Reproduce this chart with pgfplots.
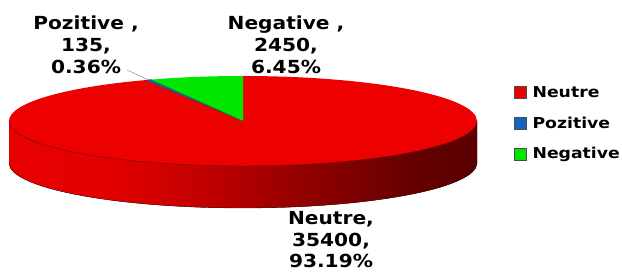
\documentclass[border=0pt]{standalone}
\usepackage{pgfplots}
\usepackage{pgfplotstable}
\pgfplotsset{compat=1.18}
\usepackage{fontspec}
\setmainfont{DejaVu Sans}
\newfontfamily\lblfont{DejaVu Sans Bold}[FakeStretch=1.12]
\newfontfamily\legfont{DejaVu Sans Bold}[FakeStretch=1.15]

\definecolor{topred}{RGB}{236,0,0}
\definecolor{edgered}{RGB}{110,0,0}
\definecolor{pgreen}{RGB}{0,230,0}
\definecolor{pblue}{RGB}{20,100,190}
\pgfdeclarehorizontalshading{sidered}{100bp}{%
  rgb(0bp)=(0.91,0,0); rgb(25bp)=(0.91,0,0); rgb(35.8bp)=(0.89,0,0);
  rgb(46.5bp)=(0.75,0,0); rgb(57.2bp)=(0.56,0,0); rgb(67.8bp)=(0.40,0,0);
  rgb(75bp)=(0.35,0,0); rgb(100bp)=(0.35,0,0)}

\pgfplotstableread{
label value
Neutre 35400
Pozitive 135
Negative 2450
}\piedata

\pgfplotstablegetelem{0}{value}\of\piedata \edef\vA{\pgfplotsretval}
\pgfplotstablegetelem{1}{value}\of\piedata \edef\vB{\pgfplotsretval}
\pgfplotstablegetelem{2}{value}\of\piedata \edef\vC{\pgfplotsretval}
\edef\tot{\fpeval{\vA+\vB+\vC}}
\def\sA{90}
\edef\eA{\fpeval{round(90-360*\vA/\tot,4)}}
\edef\eB{\fpeval{round(\eA-360*\vB/\tot,4)}}
\edef\eC{\fpeval{round(\eB-360*\vC/\tot,4)}}
\edef\mB{\fpeval{round((\eA+\eB)/2,4)}}

% geometry (axis units = pt)
\def\cx{243}
\def\cy{152}
\def\rx{234}
\def\ry{45}
\def\dep{42}

\begin{document}
\begin{tikzpicture}
\useasboundingbox (0,0) rectangle (622pt,273pt);
\begin{axis}[
  at={(0,0)}, anchor=south west,
  width=622pt, height=273pt, scale only axis,
  xmin=0, xmax=622, ymin=0, ymax=273,
  hide axis, clip=false,
  legend style={at={(514/622,1-84/273)}, anchor=north west, draw=none,
    fill=none, font=\legfont\fontsize{15}{18}\selectfont,
    row sep=14pt, inner sep=0pt,
    /tikz/every odd column/.append style={column sep=4pt}},
  legend cell align=left,
  legend image code/.code={\draw[#1] (0pt,-6pt) rectangle (12pt,6pt);},
]
% legend
\addlegendimage{fill=topred, draw=black!70, line width=0.4pt}
\addlegendentry{Neutre}
\addlegendimage{fill=pblue, draw=black!70, line width=0.4pt}
\addlegendentry{Pozitive}
\addlegendimage{fill=pgreen, draw=black!70, line width=0.4pt}
\addlegendentry{Negative}

% side of the cylinder (front half, all Neutre)
\fill[shading=sidered]
  (axis cs:{\cx-\rx},\cy) arc[start angle=180, end angle=360, x radius=\rx pt, y radius=\ry pt]
  -- ++(0pt,-\dep pt)
  arc[start angle=360, end angle=180, x radius=\rx pt, y radius=\ry pt] -- cycle;
\draw[edgered!60!black, line width=0.3pt]
  (axis cs:{\cx-\rx},{\cy-\dep}) arc[start angle=180, end angle=360, x radius=\rx pt, y radius=\ry pt];

% top slices
\fill[topred] (axis cs:\cx,\cy) -- (axis cs:{\cx+\rx*cos(\sA)},{\cy+\ry*sin(\sA)})
  arc[start angle=\sA, end angle=\eA, x radius=\rx pt, y radius=\ry pt] -- cycle;
\draw[edgered, line width=0.4pt] (axis cs:{\cx-\rx},\cy)
  arc[start angle=180, end angle=360, x radius=\rx pt, y radius=\ry pt];
\fill[pblue, draw=pblue!60!black, line width=0.3pt] (axis cs:\cx,\cy) -- (axis cs:{\cx+\rx*cos(\eA)},{\cy+\ry*sin(\eA)})
  arc[start angle=\eA, end angle=\eB, x radius=\rx pt, y radius=\ry pt] -- cycle;
\fill[pgreen] (axis cs:\cx,\cy) -- (axis cs:{\cx+\rx*cos(\eB)},{\cy+\ry*sin(\eB)})
  arc[start angle=\eB, end angle=\eC, x radius=\rx pt, y radius=\ry pt] -- cycle;
\draw[pgreen!55!black, line width=0.3pt] (axis cs:{\cx+\rx*cos(\eB)},{\cy+\ry*sin(\eB)}) -- (axis cs:\cx,\cy);

% leader line for Pozitive
\draw[black!45, line width=0.5pt] (axis cs:127,203) -- (axis cs:{\cx+\rx*cos(\mB)},{\cy+\ry*sin(\mB)});

% data labels
\node[align=center, font=\lblfont\fontsize{18}{22}\selectfont, inner sep=0pt]
  at (axis cs:86,228) {Pozitive ,\\135,\\0.36\%};
\node[align=center, font=\lblfont\fontsize{18}{22}\selectfont, inner sep=0pt]
  at (axis cs:286,228) {Negative ,\\2450,\\6.45\%};
\node[align=center, font=\lblfont\fontsize{18}{21.5}\selectfont, inner sep=0pt]
  at (axis cs:331,33) {Neutre,\\35400,\\93.19\%};
\end{axis}
\end{tikzpicture}
\end{document}
